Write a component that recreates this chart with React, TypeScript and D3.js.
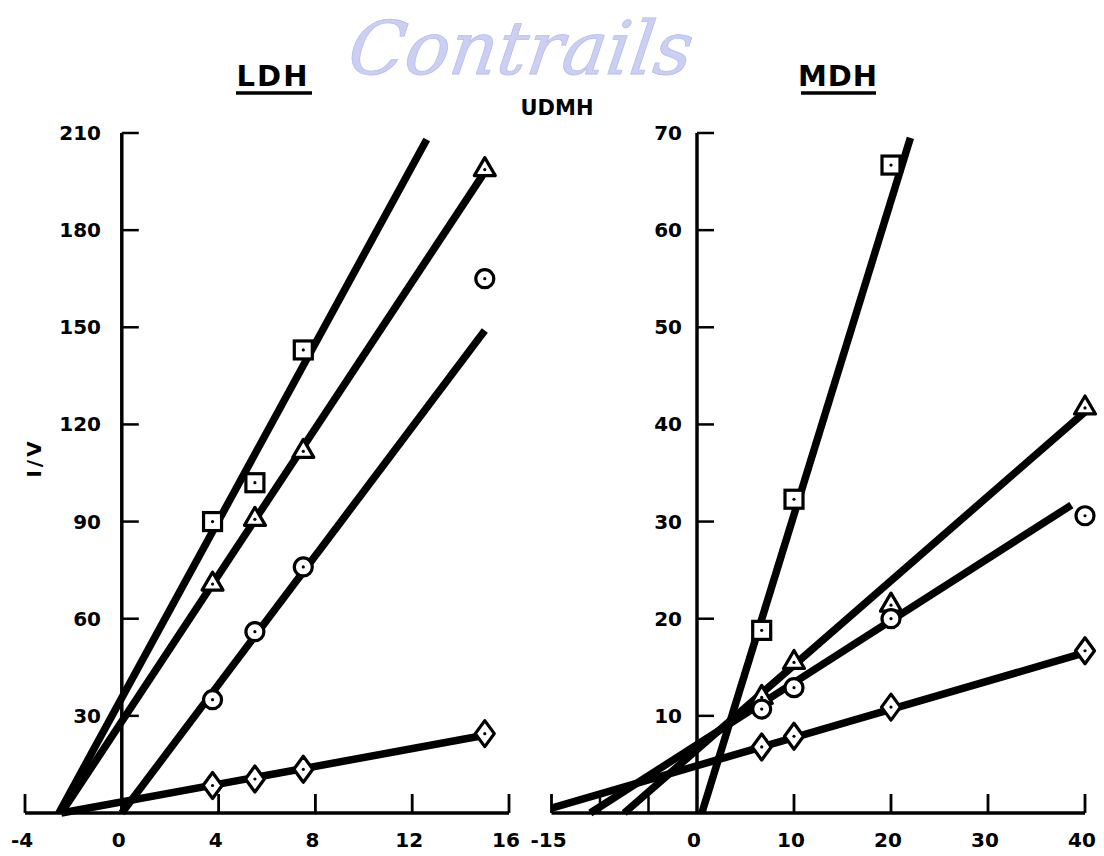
import React from "react";
import * as d3 from "d3";

// ---------- data ----------
const ldhX = [3.75, 5.5, 7.5, 15];
const ldhSquare = [90, 102, 143];
const ldhTriangle = [71, 91, 112, 199];
const ldhCircle = [35, 56, 76, 165];
const ldhDiamond = [8.5, 10.5, 13.5, 24.5];
const ldhLineSquare = [[-2.6, 0], [12.6, 208]];
const ldhLineTriangle = [[-2.5, 0], [15, 198]];
const ldhLineCircle = [[0, 0], [15, 149]];
const ldhLineDiamond = [[-2.5, 0], [15, 24]];

const mdhX = [6.67, 10, 20, 40];
const mdhSquare = [18.8, 32.3, 66.7];
const mdhTriangle = [12, 15.6, 21.5, 41.8];
const mdhCircle = [10.7, 12.9, 20, 30.6];
const mdhDiamond = [6.8, 7.9, 10.9, 16.7];
const mdhLineSquare = [[0.5, 0], [22, 69.5]];
const mdhLineTriangle = [[-7.5, 0], [40, 41.3]];
const mdhLineCircle = [[-11, 0], [38.6, 31.7]];
const mdhLineDiamond = [[-15, 0.5], [40, 16.5]];

const ldhXTicks = [-4, 0, 4, 8, 12, 16];
const ldhXTickLabels = ["-4", "0", "4", "8", "12", "16"];
const ldhYTicks = [30, 60, 90, 120, 150, 180, 210];
const mdhXTicks = [-15, 0, 10, 20, 30, 40];
const mdhXMinor = [-10, -5];
const mdhYTicks = [10, 20, 30, 40, 50, 60, 70];

const FONT = "'DejaVu Sans', sans-serif";

type Shape = "square" | "triangle" | "circle" | "diamond";

function Marker({ shape, cx, cy }: { shape: Shape; cx: number; cy: number }) {
  const sw = 3.2;
  let el: React.ReactNode = null;
  if (shape === "square") {
    el = <rect x={cx - 9} y={cy - 9} width={18} height={18} fill="#fff" stroke="#000" strokeWidth={sw} />;
  } else if (shape === "triangle") {
    const p = `${cx},${cy - 11} ${cx + 10.5},${cy + 7} ${cx - 10.5},${cy + 7}`;
    el = <polygon points={p} fill="#fff" stroke="#000" strokeWidth={sw} strokeLinejoin="round" />;
  } else if (shape === "circle") {
    el = <circle cx={cx} cy={cy} r={9} fill="#fff" stroke="#000" strokeWidth={sw} />;
  } else {
    const p = `${cx},${cy - 13} ${cx + 9.5},${cy} ${cx},${cy + 13} ${cx - 9.5},${cy}`;
    el = <polygon points={p} fill="#fff" stroke="#000" strokeWidth={sw} strokeLinejoin="round" />;
  }
  return (
    <g>
      {el}
      <circle cx={cx} cy={shape === "triangle" ? cy + 1 : cy} r={1.6} fill="#000" />
    </g>
  );
}

export default function App() {
  const yTop = 133;
  const yBase = 813;

  const xL = d3.scaleLinear().domain([-4, 16]).range([25, 509]);
  const yL = d3.scaleLinear().domain([0, 210]).range([yBase, yTop]);
  const xR = d3.scaleLinear().domain([-15, 40]).range([551.5, 1085]);
  const yR = d3.scaleLinear().domain([0, 70]).range([yBase, yTop]);

  const lineL = d3.line<number[]>().x((d) => xL(d[0])).y((d) => yL(d[1]));
  const lineR = d3.line<number[]>().x((d) => xR(d[0])).y((d) => yR(d[1]));

  const ldhSeries: { shape: Shape; vals: number[]; line: number[][] }[] = [
    { shape: "square", vals: ldhSquare, line: ldhLineSquare },
    { shape: "triangle", vals: ldhTriangle, line: ldhLineTriangle },
    { shape: "circle", vals: ldhCircle, line: ldhLineCircle },
    { shape: "diamond", vals: ldhDiamond, line: ldhLineDiamond },
  ];
  const mdhSeries: { shape: Shape; vals: number[]; line: number[][] }[] = [
    { shape: "square", vals: mdhSquare, line: mdhLineSquare },
    { shape: "triangle", vals: mdhTriangle, line: mdhLineTriangle },
    { shape: "circle", vals: mdhCircle, line: mdhLineCircle },
    { shape: "diamond", vals: mdhDiamond, line: mdhLineDiamond },
  ];

  const tickLen = 17;
  const lineW = 7.5;

  return (
    <svg
      width={1104}
      height={856}
      style={{ position: "absolute", left: 0, top: 0, background: "#fff" }}
      fontFamily={FONT}
    >
      <rect width={1104} height={856} fill="#fff" />
      {/* watermark */}
      <text
        x={520}
        y={74}
        textAnchor="middle"
        fontFamily="'DejaVu Serif', serif"
        fontStyle="italic"
        fontSize={74}
        fill="#c2c8f2"
        stroke="#aab2ec"
        strokeWidth={0.8}
        opacity={0.85}
        transform="skewX(-8) translate(8,0)"
      >
        Contrails
      </text>

      {/* titles */}
      <text x={273} y={86} textAnchor="middle" fontSize={29} fontWeight="bold" letterSpacing={2}>
        LDH
      </text>
      <line x1={236} x2={312} y1={93} y2={93} stroke="#000" strokeWidth={3.5} />
      <text x={838} y={86} textAnchor="middle" fontSize={29} fontWeight="bold" letterSpacing={1}>
        MDH
      </text>
      <line x1={801} x2={876} y1={93} y2={93} stroke="#000" strokeWidth={3.5} />
      <text x={557} y={115} textAnchor="middle" fontSize={21} fontWeight="bold">
        UDMH
      </text>
      <text
        transform={`translate(41,458) rotate(-90)`}
        textAnchor="middle"
        fontSize={20}
        fontWeight="bold"
        letterSpacing={3}
      >
        I/V
      </text>

      {/* ---------- left panel ---------- */}
      <g>
        <line x1={xL(0)} x2={xL(0)} y1={yTop} y2={yBase} stroke="#000" strokeWidth={3.5} />
        <line x1={xL(-4)} x2={xL(16)} y1={yBase} y2={yBase} stroke="#000" strokeWidth={3.5} />
        {ldhYTicks.map((t) => (
          <g key={t}>
            <line x1={xL(0)} x2={xL(0) + tickLen} y1={yL(t)} y2={yL(t)} stroke="#000" strokeWidth={2.5} />
            <text x={101} y={yL(t) + 7} textAnchor="end" fontSize={20} fontWeight="bold">
              {t}
            </text>
          </g>
        ))}
        {ldhXTicks.map((t, i) => (
          <g key={t}>
            {t !== 0 && (
              <line x1={xL(t)} x2={xL(t)} y1={yBase} y2={yBase - 19} stroke="#000" strokeWidth={2.8} />
            )}
            <text x={xL(t) - 3} y={847} textAnchor="middle" fontSize={20} fontWeight="bold">
              {ldhXTickLabels[i]}
            </text>
          </g>
        ))}
        {ldhSeries.map((s) => (
          <path key={s.shape} d={lineL(s.line) || ""} stroke="#000" strokeWidth={lineW} fill="none" />
        ))}
        {ldhSeries.map((s) =>
          s.vals.map((v, i) => <Marker key={s.shape + i} shape={s.shape} cx={xL(ldhX[i])} cy={yL(v)} />)
        )}
      </g>

      {/* ---------- right panel ---------- */}
      <g>
        <line x1={xR(0)} x2={xR(0)} y1={yTop} y2={yBase} stroke="#000" strokeWidth={3.5} />
        <line x1={xR(-15)} x2={xR(40)} y1={yBase} y2={yBase} stroke="#000" strokeWidth={3.5} />
        {mdhYTicks.map((t) => (
          <g key={t}>
            <line x1={xR(0)} x2={xR(0) + tickLen} y1={yR(t)} y2={yR(t)} stroke="#000" strokeWidth={2.5} />
            <text x={682} y={yR(t) + 7} textAnchor="end" fontSize={20} fontWeight="bold">
              {t}
            </text>
          </g>
        ))}
        {mdhXTicks.map((t) => (
          <g key={t}>
            {t !== 0 && (
              <line x1={xR(t)} x2={xR(t)} y1={yBase} y2={yBase - 19} stroke="#000" strokeWidth={2.8} />
            )}
            <text x={xR(t) - 3} y={847} textAnchor="middle" fontSize={20} fontWeight="bold">
              {String(t)}
            </text>
          </g>
        ))}
        {mdhXMinor.map((t) => (
          <line key={t} x1={xR(t)} x2={xR(t)} y1={yBase} y2={yBase - 17} stroke="#000" strokeWidth={2.5} />
        ))}
        {mdhSeries.map((s) => (
          <path key={s.shape} d={lineR(s.line) || ""} stroke="#000" strokeWidth={lineW} fill="none" />
        ))}
        {mdhSeries.map((s) =>
          s.vals.map((v, i) => <Marker key={s.shape + i} shape={s.shape} cx={xR(mdhX[i])} cy={yR(v)} />)
        )}
      </g>
    </svg>
  );
}
